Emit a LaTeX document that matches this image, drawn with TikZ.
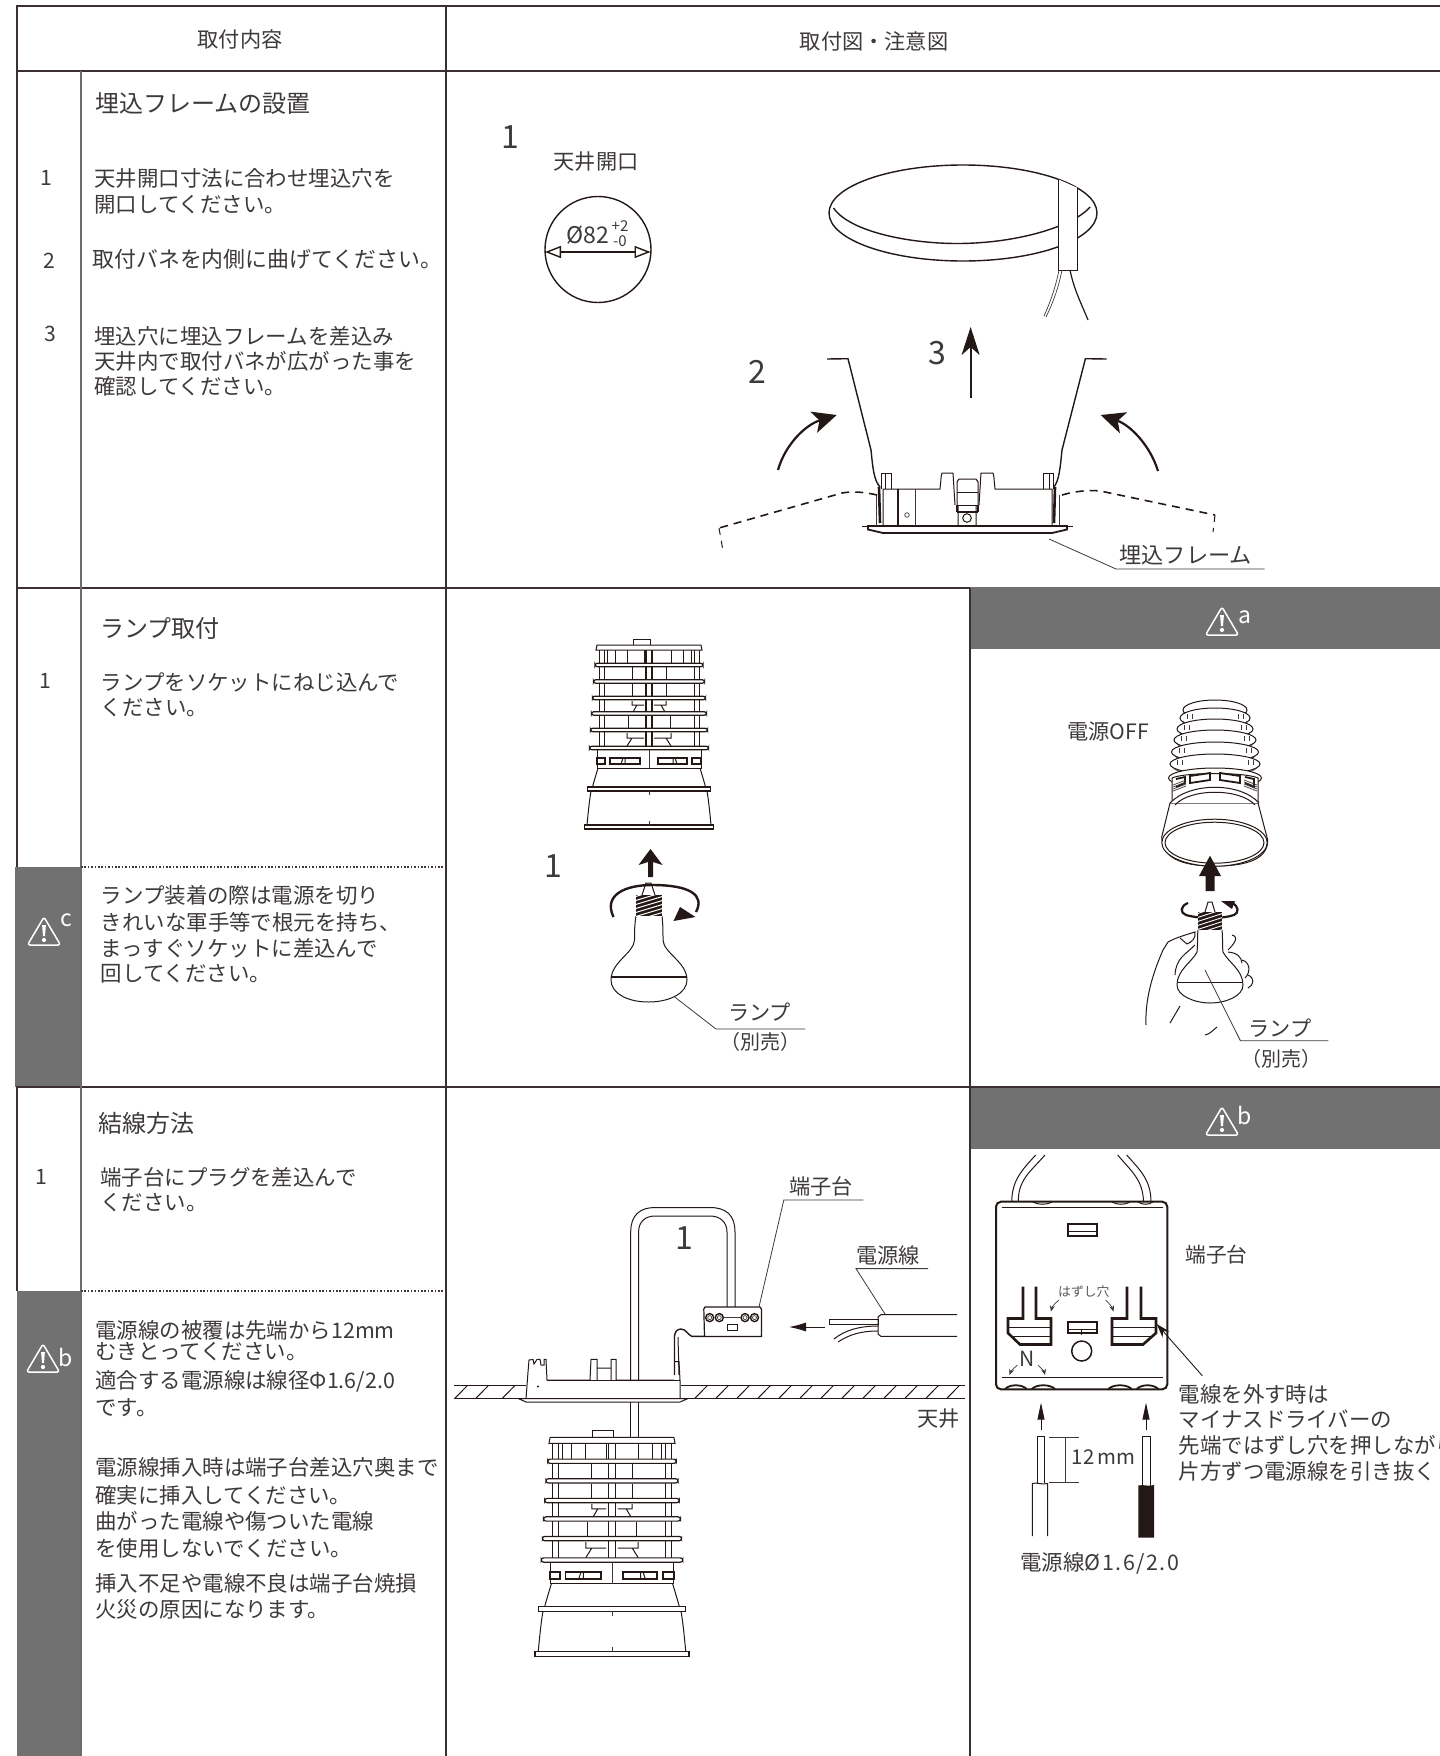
\documentclass[tikz,border=0pt]{standalone}
\usepackage{fontspec}
\usetikzlibrary{arrows.meta}
\newfontfamily\jp{Noto Sans CJK JP}
\definecolor{ink}{HTML}{3E3A39}
\definecolor{inkd}{HTML}{231815}
\definecolor{band}{HTML}{727171}
\definecolor{rule}{HTML}{3A3030}
\newcommand\fs[1]{\jp\fontsize{#1}{#1}\selectfont}
\tikzset{
  txt/.style={anchor=west,inner sep=0pt,text=ink,font=\fs{10.72}},
  ctxt/.style={anchor=center,inner sep=0pt,text=ink,font=\fs{10.6}},
  big/.style={anchor=center,inner sep=0pt,text=ink,font=\fs{16}},
  wtxt/.style={anchor=center,inner sep=0pt,text=white,font=\fs{11.5}},
  grid/.style={draw=rule,line width=1pt},
  ln/.style={draw=inkd,line width=.5pt},
  hair/.style={draw=ink,line width=.35pt},
  lead/.style={draw=ink,line width=.4pt},
  thick1/.style={draw=inkd,line width=.9pt},
  dots/.style={draw=ink,line width=.7pt,dash pattern=on .8pt off .9pt},
}
\newcommand\warnicon[2]{%
 \begin{scope}[shift={(#1,#2)}]
  \draw[white,line width=.75pt,rounded corners=1.2pt,line join=round] (-16.5,28)--(0,0)--(16.5,28)--cycle;
  \fill[white] (-1.9,8)--(1.9,8)--(1,19)--(-1,19)--cycle;
  \fill[white] (0,23) circle (2.1);
 \end{scope}}
\newcommand\lampmod[3]{%
 \begin{scope}[shift={(#1,#2)},scale=#3]
  \foreach \x in {-50,-45,45,50} \draw[ln] (\x,2) -- (\x,100);
  \foreach \x in {-42,-34,-22,-5,22,34,42} \draw[ln] (\x,2) -- (\x,15);
  \foreach \x in {-17,17} \draw[ln] (\x,19) -- (\x,31);
  \foreach \x in {-17,17} \draw[ln] (\x,36) -- (\x,48);
  \foreach \x in {-21,21} \draw[ln] (\x,68) -- (\x,80);
  \draw[ln] (-17,53)--(-17,57)--(-12,57)--(-16,64) (17,53)--(17,57)--(12,57)--(16,64) (-17,57)--(-5,57) (17,57)--(5,57);
  \draw[ln] (-22,85)--(-22,90)--(-17,90)--(-22,98) (22,85)--(22,90)--(17,90)--(22,98) (-17,90)--(-5,90) (17,90)--(5,90);
  \draw[ln] (-16,-3) rectangle (1,-8.5);
  \draw[draw=inkd,line width=.85pt,fill=white] (-3,-1) rectangle (3,100);
  \draw[ln,fill=white] (-52,-3) -- (52,-3) -- (53,2) -- (-53,2) -- cycle;
  \foreach \y/\r in {17/54,33.5/55.5,50/56.5,65.5/57.5,82/58.5,100/59.5}
    \draw[draw=inkd,line width=.6pt,fill=white,rounded corners=1.2pt] (-\r,\y-1.8) rectangle (\r,\y+1.8);
  \draw[ln] (-52,102)--(-52,120)--(52,120)--(52,102);
  \draw[thick1] (-52,110) rectangle (-44,116) (-39,110) rectangle (-9,116) (9,110) rectangle (38,116) (43,110) rectangle (52,116);
  \draw[ln] (-28,116)--(-26,110) (-24,116)--(-24,110) (28,116)--(26,110) (24,116)--(24,110);
  \draw[hair] (0,102)--(0,120);
  \draw[ln] (-51,120) .. controls (-53,127) and (-55,133) .. (-56.5,139);
  \draw[ln] (51,120) .. controls (53,127) and (55,133) .. (56.5,139);
  \draw[draw=inkd,line width=.55pt,fill=white] (-61.5,139) rectangle (61.5,143);
  \draw[ln] (-58,143) .. controls (-60,155) and (-61,167) .. (-62,177);
  \draw[ln] (58,143) .. controls (60,155) and (61,167) .. (62,177);
  \draw[draw=inkd,line width=.55pt,fill=white] (-64.7,177) rectangle (64.7,181);
  \draw[hair] (0,143)--(0,147) (0,173)--(0,177);
 \end{scope}}
\begin{document}
\begin{tikzpicture}[x=.5pt,y=-.5pt,line cap=butt]
\useasboundingbox (0,0) rectangle (1440,1756);
\clip (0,0) rectangle (1440,1756);
\fill[white] (0,0) rectangle (1440,1756);
% ---- bands
\fill[band] (15,867) rectangle (81,1087);
\fill[band] (17,1291) rectangle (81,1756);
\fill[band] (970,587) rectangle (1440,649);
\fill[band] (970,1087) rectangle (1440,1149);
% ---- table
\draw[grid] (16,6) -- (1440,6);
\draw[grid] (16,71) -- (1440,71);
\draw[grid] (16,588) -- (970,588);
\draw[grid] (16,1087) -- (1440,1087);
\draw[grid] (16.5,6) -- (16.5,867);
\draw[grid] (16.5,1087) -- (16.5,1291);
\draw[grid] (446,6) -- (446,1756);
\draw[grid] (969.5,588) -- (969.5,1756);
\draw[draw=ink!75,line width=.8pt] (81,71) -- (81,1756);
\draw[dots] (81,867) -- (444,867);
\draw[dots] (81,1291) -- (444,1291);
% ---- headers
\node[ctxt,font=\fs{10.6}] (h1) at (240,39) {取付内容};
\node[ctxt,font=\fs{10.6}] (h2) at (874,41) {取付図・注意図};
% ---- row 1 text
\node[txt,font=\fs{12}] (r1t) at (95,104) {埋込フレームの設置};
\node[ctxt] (r1n1) at (46,178) {1};
\node[ctxt] (r1n2) at (49,261) {2};
\node[ctxt] (r1n3) at (50,334) {3};
\node[txt] (r1a) at (94,178) {天井開口寸法に合わせ埋込穴を};
\node[txt] (r1b) at (94,205) {開口してください。};
\node[txt,font=\fs{10.95}] (r1c) at (92,259) {取付バネを内側に曲げてください。};
\node[txt] (r1d) at (94,336) {埋込穴に埋込フレームを差込み};
\node[txt] (r1e) at (94,361) {天井内で取付バネが広がった事を};
\node[txt] (r1f) at (94,386) {確認してください。};
% ---- row 2 text
\node[txt,font=\fs{12}] (r2t) at (100,628) {ランプ取付};
\node[ctxt] (r2n1) at (45,681) {1};
\node[txt] (r2a) at (100.5,682) {ランプをソケットにねじ込んで};
\node[txt] (r2b) at (100.5,708) {ください。};
\warnicon{44}{917}
\node[wtxt] (cc) at (66,920) {c};
\node[txt] (r2c) at (100.5,895) {ランプ装着の際は電源を切り};
\node[txt] (r2d) at (100.5,922) {きれいな軍手等で根元を持ち、};
\node[txt] (r2e) at (100.5,948) {まっすぐソケットに差込んで};
\node[txt] (r2f) at (100.5,974) {回してください。};
% ---- row 3 text
\node[txt,font=\fs{12}] (r3t) at (98,1123) {結線方法};
\node[ctxt] (r3n1) at (41,1177) {1};
\node[txt] (r3a) at (100,1177) {端子台にプラグを差込んで};
\node[txt] (r3b) at (100,1203) {ください。};
\warnicon{43}{1344}
\node[wtxt] (cb) at (66,1357) {b};
\node[txt] (r3c) at (95,1330) {電源線の被覆は先端から12mm};
\node[txt] (r3d) at (95,1352) {むきとってください。};
\node[txt] (r3e) at (95,1381) {適合する電源線は線径Φ1.6/2.0};
\node[txt] (r3f) at (95,1408) {です。};
\node[txt] (r3g) at (95,1467) {電源線挿入時は端子台差込穴奥まで};
\node[txt] (r3h) at (95,1495) {確実に挿入してください。};
\node[txt] (r3i) at (95,1521) {曲がった電線や傷ついた電線};
\node[txt] (r3j) at (95,1548) {を使用しないでください。};
\node[txt] (r3k) at (95,1583) {挿入不足や電線不良は端子台焼損};
\node[txt] (r3l) at (95,1609) {火災の原因になります。};
% ---- diagram 1
\node[big] (d1n) at (510,137) {1};
\node[ctxt] (d1o) at (596,162) {天井開口};
\draw[thick1,line width=.7pt] (598,249.5) circle (53);
\node[ctxt,font=\fs{11.5}] (d1p) at (588,235) {Ø82};
\node[ctxt,font=\fs{7.5}] (d1q) at (620,226) {+2};
\node[ctxt,font=\fs{7.5}] (d1r) at (620,241) {-0};
\draw[{Stealth[length=8pt,width=6pt,inset=0pt,open]}-{Stealth[length=8pt,width=6pt,inset=0pt,open]},thick1,line width=.7pt] (545,252) -- (650.5,252);
% hole
\draw[thick1,line width=.7pt] (963,213) ellipse [x radius=134,y radius=48];
\draw[thick1,line width=.7pt] (833.5,208) .. controls (850,232) and (910,243.5) .. (957,243.5) .. controls (1020,243.5) and (1075,225) .. (1090,207);
\draw[ln,fill=white] (1058.6,179.5) -- (1058.6,270) -- (1077.8,270) -- (1077.8,188);
\draw[hair] (1062,270) .. controls (1058,290) and (1052,305) .. (1046,317);
\draw[hair] (1059,270) .. controls (1055,290) and (1049,305) .. (1044,316);
\draw[ln,line width=.6pt] (1070,270) .. controls (1074,290) and (1082,305) .. (1088,320);
\node[big] (d1n3) at (937.5,353) {3};
\node[big] (d1n2) at (757.6,372) {2};
\draw[thick1,-{Stealth[length=14pt,width=9pt,inset=4pt]}] (970.6,398) -- (970.6,327);
\draw[thick1,line width=1.1pt,-{Stealth[length=12pt,width=11pt,inset=3pt]}] (778,470) .. controls (785,445) and (805,425) .. (836.7,415);
\draw[thick1,line width=1.1pt,-{Stealth[length=12pt,width=11pt,inset=3pt]}] (1158,471) .. controls (1150,445) and (1130,425) .. (1100.7,415);
% springs
\draw[ln,line width=.7pt] (827,359) -- (848,358.7) -- (871,450) .. controls (873,470) and (874,480) .. (880,487);
\draw[ln,line width=.7pt] (1106.5,359) -- (1085.4,358.7) -- (1062,450) .. controls (1060,470) and (1059,480) .. (1054,487);
% frame
\draw[ln] (862,526) -- (1073,526);
\draw[thick1,fill=white] (868,526) -- (868,529.5) -- (883,533) -- (1052,533) -- (1067,529.5) -- (1067,526) -- cycle;
\draw[hair] (876,495) -- (876,526) (1059,495) -- (1059,526);
\draw[ln] (883,526) -- (883,489) -- (940,489) .. controls (941,480) and (941,475) .. (942,473) -- (953,473) -- (955,505) (958,505) -- (958,526);
\draw[ln] (1052,526) -- (1052,489) -- (995,489) .. controls (994,480) and (994,475) .. (993,473) -- (981,473) -- (979,505) (976,505) -- (976,526);
\draw[ln] (957,505) -- (957,482) -- (959,479) -- (976,479) -- (978,482) -- (978,505);
\draw[ln] (957,492) -- (978,492) (957,505) -- (978,505);
\draw[thick1] (957,512) -- (978,512) (957,505) -- (957,512) (978,505) -- (978,512);
\draw[ln] (967,518) circle (4.3);
\draw[ln,line width=.7pt] (898,489) -- (898,526);
\draw[hair] (915,489) -- (915,526);
\draw[hair] (907,515) circle (2.3);
\draw[ln] (881.7,489) -- (881.7,473) -- (891,473) -- (891,489) (885,473) -- (885,489);
\draw[ln] (1043,489) -- (1043,473) -- (1053,473) -- (1053,489) (1049,473) -- (1049,489);
\draw[draw=inkd,line width=1.3pt] (879,487) -- (880,523);
\draw[draw=inkd,line width=1.3pt] (1055,487) -- (1054,523);
\draw[draw=inkd,line width=.8pt,dash pattern=on 4pt off 3pt] (877,495) .. controls (860,491) and (845,491) .. (835,495) -- (719,528);
\draw[draw=inkd,line width=.5pt,dash pattern=on 3.5pt off 3pt] (719,528) -- (722.5,548);
\draw[draw=inkd,line width=.8pt,dash pattern=on 4pt off 3pt] (1062,495) .. controls (1075,491) and (1095,489) .. (1105,492) -- (1215,515);
\draw[draw=inkd,line width=.5pt,dash pattern=on 3.5pt off 3pt] (1215,515) -- (1213,532);
\draw[lead] (1049,539) -- (1116,569) -- (1264.6,569);
\node[txt,font=\fs{11.1}] (d1f) at (1119,555) {埋込フレーム};
% ---- diagram 2
\lampmod{649}{648}{1}
\node[big] (d2n) at (553.5,866) {1};
\fill[inkd] (648,877) -- (648,862) -- (638.5,865) -- (650.5,849) -- (662.5,865) -- (653,862) -- (653,877) -- cycle;
\draw[draw=inkd,line width=1.2pt] (613.5,917) .. controls (603,895) and (625,885) .. (652,885) .. controls (690,885) and (705,895) .. (696,912);
\fill[inkd] (673.5,921) -- (680,907) -- (695.5,917) -- cycle;
% bulb 1
\draw[ln] (642,895) -- (646,883) -- (651,883) -- (655,895);
\draw[ln] (636,916) .. controls (634.5,925) and (634.5,932) .. (634.5,940) .. controls (634,953) and (611,962) .. (611,980) .. controls (611,993) and (627,1002) .. (648.5,1002);
\draw[ln] (662,916) .. controls (663,925) and (663,932) .. (663,940) .. controls (663.5,953) and (687,962) .. (687,980) .. controls (687,993) and (670,1002) .. (648.5,1002);
\draw[ln,line width=.7pt] (611,977) -- (687,977);
\fill[inkd] (636,895) rectangle (662,916);
\begin{scope}
\clip (636,895) rectangle (662,916);
\foreach \y in {897,901,...,925} \draw[white,line width=.5pt] (634,\y) -- (664,\y-9);
\end{scope}
\draw[lead] (674.7,997) -- (716,1029) -- (805,1029);
\node[ctxt] (d2l) at (759.5,1012) {ランプ};
\node[ctxt,font=\fs{10}] (d2m) at (760,1042) {（別売）};
% ---- diagram a
\warnicon{1222}{607}
\node[wtxt] (ca) at (1245,617) {a};
\node[ctxt] (dao) at (1108,732) {電源OFF};
\begin{scope}
\draw[ln,fill=white] (1170,803) -- (1161.7,837) .. controls (1162,862) and (1190,866) .. (1215,866) .. controls (1240,866) and (1268,862) .. (1267.7,840) -- (1258,803) -- cycle;
\foreach \y/\r in {710/32,718/35,729/38,740/41,752/43.5,764/45,778/46.5}{
  \draw[ln,fill=white] (1215,\y) ellipse [x radius=\r,y radius=10];
  \draw[hair] (1215-\r+3,\y+3) arc[start angle=180,end angle=360,x radius=\r-3,y radius=-8];
}
\foreach \y/\r in {714/28,725/31,736/34,748/36,760/38}{
  \draw[hair] (1215-\r,\y) -- (1215-\r,\y+5) (1215-\r+5,\y) -- (1215-\r+5,\y+5) (1215+\r,\y) -- (1215+\r,\y+5) (1215+\r-5,\y) -- (1215+\r-5,\y+5);
}
\draw[ln,fill=white] (1172,803) -- (1172,778) .. controls (1185,772) and (1245,772) .. (1258,778) -- (1258,803) .. controls (1240,785) and (1190,785) .. (1172,803);
\draw[thick1] (1190,776) -- (1210,773) -- (1210,780) -- (1190,783) -- cycle (1220,773) -- (1240,776) -- (1240,783) -- (1220,780) -- cycle (1176,779) -- (1185,777) -- (1185,783) -- (1176,787) (1245,777) -- (1254,779) -- (1254,787) -- (1245,783);
\foreach \i in {0,2,4,6} \draw[hair] (1173,785+\i) -- (1186,780+\i) (1257,785+\i) -- (1244,780+\i);
\draw[ln,fill=white] (1170,803) .. controls (1190,782) and (1240,782) .. (1259,803);
\draw[ln] (1175,805) .. controls (1190,788) and (1240,788) .. (1255,805);
\draw[ln,fill=white] (1214.5,842.7) ellipse [x radius=52.7,y radius=23.5];
\draw[ln,fill=white] (1214.5,842.7) ellipse [x radius=49.5,y radius=20.5];
\end{scope}
\fill[inkd] (1205.5,891) -- (1205.5,876) -- (1199,876) -- (1210,855.7) -- (1221,876) -- (1214.5,876) -- (1214.5,891) -- cycle;
% bulb a + hand
\draw[draw=inkd,line width=1.1pt] (1188,903) .. controls (1180,906) and (1180,913) .. (1186,915) .. controls (1200,919) and (1222,919) .. (1234,915) .. controls (1239,913) and (1239,906) .. (1232,903);
\fill[inkd] (1221,901) -- (1235,901) -- (1232,909) -- cycle;
\draw[ln] (1205,912) -- (1208,902) -- (1212,902) -- (1215,912);
\draw[ln] (1198,930) .. controls (1197,940) and (1198,945) .. (1197,952) .. controls (1192,962) and (1177,970) .. (1177,985) .. controls (1177,996) and (1195,1003) .. (1210,1003) .. controls (1226,1003) and (1243,996) .. (1243,985) .. controls (1243,970) and (1228,962) .. (1223,952) .. controls (1222,945) and (1223,940) .. (1222,930);
\draw[ln,line width=.7pt] (1177,982.3) -- (1243,982.3);
\fill[inkd] (1198,912) rectangle (1222,930);
\begin{scope}
\clip (1198,912) rectangle (1222,930);
\foreach \y in {914,918,...,942} \draw[white,line width=.45pt] (1196,\y) -- (1224,\y-9);
\end{scope}
\draw[ln] (1146,1025) .. controls (1145,1000) and (1152,975) .. (1163,950) -- (1168,942) .. controls (1175,938) and (1185,935) .. (1195,932) .. controls (1196,938) and (1192,942) .. (1187,944);
\draw[ln] (1180,938) -- (1187,944);
\draw[ln] (1195,945) .. controls (1185,955) and (1176,958) .. (1175,975);
\draw[ln] (1232,935) .. controls (1240,937) and (1233,945) .. (1228,950);
\draw[ln] (1228,952) .. controls (1238,953) and (1241,957) .. (1242,963);
\draw[ln] (1242,960) .. controls (1250,962) and (1251,972) .. (1245,978);
\draw[ln] (1248,975) .. controls (1255,978) and (1254,985) .. (1248,988);
\draw[ln] (1180,1006) -- (1170,1023);
\draw[ln] (1217,1027) .. controls (1212,1031) and (1210,1034) .. (1205,1035);
\draw[lead] (1205,970) -- (1240.4,1040.7) -- (1328.4,1040.7);
\node[ctxt] (dal) at (1280,1028) {ランプ};
\node[ctxt,font=\fs{10}] (dam) at (1281,1059) {（別売）};
% ---- diagram 3
\node[big] (d3n) at (684,1238) {1};
\node[ctxt] (d3t) at (821,1186) {端子台};
\draw[lead] (755.5,1322) -- (783.8,1200) -- (863.4,1200);
\node[ctxt] (d3p) at (888,1255) {電源線};
\draw[lead] (885,1314) -- (856,1268.6) -- (928,1268.6);
\draw[ln] (630.7,1380) -- (630.7,1232) .. controls (630.7,1215) and (640,1207.5) .. (655,1207.5) -- (710,1207.5) .. controls (726,1207.5) and (735,1215) .. (735,1232) -- (735,1307);
\draw[ln] (638.6,1380) -- (638.6,1232) .. controls (638.6,1222) and (645,1216) .. (655,1216) -- (710,1216) .. controls (720,1216) and (727,1222) .. (727,1232) -- (727,1307);
\draw[ln] (630.7,1402) -- (630.7,1439) (638.6,1402) -- (638.6,1439);
% terminal
\draw[ln,line width=.6pt,fill=white] (703.8,1309) -- (705,1307) -- (760,1307) -- (761.4,1309) -- (761.4,1336.4) -- (704.5,1336.4) -- cycle;
\foreach \x in {709.7,719.3,745,754.5}{\draw[ln,line width=.7pt] (\x,1317.6) circle (4);\draw[hair] (\x,1317.6) circle (2);}
\draw[hair] (723.5,1317.6) -- (741,1317.6);
\draw[ln] (727,1324.7) rectangle (737,1330);
\draw[ln,line width=.7pt] (704.5,1336.4) -- (692,1336.4) .. controls (688,1335) and (686,1329) .. (681,1329) .. controls (677,1329) and (675,1332) .. (674.5,1336) -- (674.5,1375);
\draw[ln] (678,1337) -- (679,1375);
% ceiling
\draw[ln] (454,1385.4) -- (525.5,1385.4) (681,1385.4) -- (965,1385.4);
\draw[ln] (454,1398.7) -- (965,1398.7);
\foreach \x in {454.5,475.5,502} \draw[ln] (\x,1398.7) -- (\x+13,1385.4);
\foreach \x in {694.5,715.5,...,950} \draw[ln] (\x,1398.7) -- (\x+13,1385.4);
\node[ctxt] (d3c) at (938.8,1419) {天井};
% frame side
\draw[ln,fill=white] (518.6,1398.7) -- (687.6,1398.7) -- (680,1402) -- (526,1402) -- cycle;
\draw[ln] (526,1398.7) -- (528,1372) -- (529,1360) -- (533,1359.4) -- (534,1364) -- (537,1359.4) -- (540,1359.4) -- (541,1365) -- (544,1365) -- (544,1359.4) -- (546,1359.4) -- (547,1380) -- (590,1380) -- (591,1359.4) -- (597,1359.4) -- (597,1380) (611,1380) -- (611,1359.4) -- (616,1359.4) -- (616,1380) -- (674,1380) (597,1368) -- (611,1368);
\draw[ln] (547,1380) -- (680,1380);
\draw[ln] (680,1380) -- (680,1398.7) (675,1361.5) -- (679,1361.5) -- (680,1380) ;
\fill[inkd] (538,1386.5) circle (1.2);
% power cable
\draw[ln] (957,1314.6) -- (881,1314.6) -- (878,1317) -- (878,1334) -- (881,1336.4) -- (957,1336.4);
\draw[ln] (829,1319) rectangle (878,1324.7);
\draw[ln] (878,1326) .. controls (860,1326) and (845,1330) .. (834,1339);
\draw[ln] (878,1331) .. controls (862,1331) and (850,1334) .. (838,1342);
\draw[draw=inkd,line width=.45pt,-{Latex[length=8.5pt,width=4.5pt]}] (824.5,1327) -- (789,1327);
\lampmod{612}{1441}{1.19}
% ---- diagram b
\warnicon{1222}{1107}
\node[wtxt] (cb2) at (1245,1115) {b};
\draw[ln] (1045,1155) .. controls (1030,1172) and (1018,1180) .. (1018.3,1202);
\draw[ln] (1035.7,1155) .. controls (1022,1170) and (1012,1180) .. (1011.7,1202);
\draw[ln] (1117.7,1155) .. controls (1132,1172) and (1143,1180) .. (1143.5,1202);
\draw[ln] (1126.7,1155) .. controls (1140,1170) and (1151,1180) .. (1151,1202);
\draw[draw=inkd,line width=1pt,rounded corners=2.5pt,fill=white] (996,1201.7) rectangle (1167.3,1389.3);
\draw[ln] (1001.7,1207.3) -- (1162.7,1207.3) (1001.7,1377.7) -- (1162.7,1377.7);
\foreach \a/\b in {1005/1026.7,1031.7/1055,1108.3/1131.7,1136.7/1158.3}
  \draw[thick1] (\a,1389) .. controls (\a+5,1384) and (\b-5,1384) .. (\b,1389);
\foreach \a/\b in {1033/1052,1112/1130,1138/1153}
  \draw[ln] (\a,1202) .. controls (\a+5,1205) and (\b-5,1205) .. (\b,1202);
\draw[draw=inkd,line width=1pt] (1067.7,1224.3) rectangle (1096.7,1236);
\draw[ln] (1067.7,1231) -- (1096.7,1231);
\draw[draw=inkd,line width=1pt] (1067.7,1321.7) rectangle (1096.7,1333.3);
\draw[ln] (1067.7,1329) -- (1096.7,1329) (1081.7,1329) -- (1081.7,1335);
\draw[draw=inkd,line width=.75pt] (1081.7,1351) circle (10);
\draw[draw=inkd,line width=1.3pt,line join=miter] (1023,1286.7) -- (1023,1318.5) -- (1008,1318.5) -- (1008,1333) -- (1020,1344.5) -- (1051,1344.5) -- (1051,1318.5) -- (1036,1318.5) -- (1036,1286.7);
\draw[ln] (1009,1327) -- (1051,1327) (1012,1336) -- (1051,1336);
\draw[draw=inkd,line width=1.3pt,line join=miter] (1127,1286.7) -- (1127,1318.5) -- (1112,1318.5) -- (1112,1344.5) -- (1143,1344.5) -- (1156,1333) -- (1156,1318.5) -- (1141,1318.5) -- (1141,1286.7);
\draw[ln] (1112,1327) -- (1155,1327) (1112,1336) -- (1152,1336);
\node[ctxt,font=\fs{6.4},text=ink!85] (dbh) at (1083.8,1291.7) {はずし穴};
\draw[hair,-{Stealth[length=3pt,width=2.5pt]}] (1059,1300) .. controls (1055,1303) and (1052,1307) .. (1051,1311.5);
\draw[hair,-{Stealth[length=3pt,width=2.5pt]}] (1105.5,1300) .. controls (1109,1303) and (1112,1307) .. (1113.5,1311.5);
\node[ctxt,font=\fs{10.5}] (dbn) at (1027.3,1359) {N};
\draw[hair,-{Stealth[length=3pt,width=2.5pt]}] (1017.5,1365) .. controls (1014,1368) and (1011,1371) .. (1009.5,1375);
\draw[hair,-{Stealth[length=3pt,width=2.5pt]}] (1038,1365) .. controls (1041,1368) and (1044,1371) .. (1045,1375);
\draw[draw=inkd,line width=.45pt,-{Stealth[length=7pt,width=4.5pt]}] (1202.3,1375.7) -- (1156.7,1324);
\node[txt,font=\fs{10.35}] (dbt) at (1185,1255) {端子台};
\node[txt] (dba) at (1178.3,1394) {電線を外す時は};
\node[txt] (dbb) at (1178.3,1419.3) {マイナスドライバーの};
\node[txt] (dbc) at (1178.3,1445.7) {先端ではずし穴を押しながら};
\node[txt] (dbd) at (1178.3,1471.7) {片方ずつ電源線を引き抜く};
\draw[draw=inkd,line width=.5pt,-{Stealth[length=8.5pt,width=3.5pt,inset=0pt]}] (1041,1430) -- (1041,1402.7);
\draw[draw=inkd,line width=.5pt,-{Stealth[length=8.5pt,width=3.5pt,inset=0pt]}] (1146,1430) -- (1146,1402.7);
\draw[ln] (1037.3,1483) -- (1037.3,1436.7) -- (1044,1436.7) -- (1044,1483);
\draw[ln] (1032.3,1536) -- (1032.3,1483.5) .. controls (1036,1482) and (1042,1485) .. (1047.7,1483.5) -- (1047.7,1536);
\draw[hair] (1049,1437.3) -- (1079.3,1437.3) (1049,1482.3) -- (1079.3,1482.3) (1065,1437.3) -- (1065,1482.3);
\node[txt,font=\fs{10.2}] (db12) at (1071.5,1457.3) {12\,mm};
\draw[ln] (1142.3,1486) -- (1142.3,1436.7) -- (1150,1436.7) -- (1150,1486);
\fill[inkd] (1138.3,1537.7) -- (1138.3,1485.5) .. controls (1143,1484) and (1149,1487) .. (1154,1485) -- (1154,1537.7) -- cycle;
\node[txt] (dbw) at (1020,1563.3) {電源線{\addfontfeature{LetterSpace=7}Ø1.6/2.0}};
\end{tikzpicture}
\end{document}
